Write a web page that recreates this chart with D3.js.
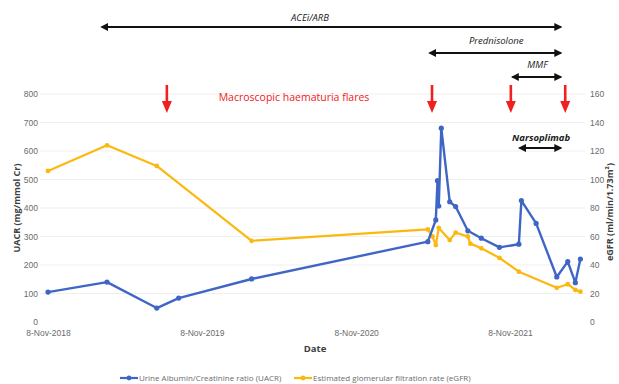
<!DOCTYPE html>
<html><head><meta charset="utf-8">
<script src="https://cdn.jsdelivr.net/npm/d3@7"></script>
<style>
html,body{margin:0;padding:0;background:#fff;}
svg{display:block;font-family:"Open Sans","Liberation Sans",sans-serif;}
</style></head>
<body><svg id="chart" width="619" height="384"></svg>
<script>
// ---- data ----
const uacrDates = ["2018-11-08","2019-03-28","2019-07-24","2019-09-14","2020-03-05","2021-04-27","2021-05-16","2021-05-20","2021-05-23","2021-05-29","2021-06-18","2021-07-02","2021-07-31","2021-09-01","2021-10-14","2021-11-29","2021-12-05","2022-01-09","2022-02-27","2022-03-25","2022-04-12","2022-04-24"];
const uacrValues = [105,140,49,84,151,282,358,496,407,680,422,405,320,294,262,273,426,346,158,212,138,221];
const egfrDates = ["2018-11-08","2019-03-28","2019-07-24","2020-03-05","2021-04-27","2021-05-08","2021-05-16","2021-05-23","2021-06-18","2021-07-02","2021-07-31","2021-08-06","2021-09-01","2021-10-14","2021-11-29","2022-02-27","2022-03-25","2022-04-12","2022-04-24"];
const egfrValues = [106,124,109.5,57,65,60,54,66,57.5,62.7,60,55,51.7,45,35.3,24,26.5,22.5,21.3];
const xTickDates = ["2018-11-08","2019-11-08","2020-11-08","2021-11-08"];
const leftTicks = [0,100,200,300,400,500,600,700,800];
const rightTicks = [0,20,40,60,80,100,120,140,160];
const treatments = ["ACEi/ARB","Prednisolone","MMF","Narsoplimab"];
const treatmentStart = ["2019-03-11","2021-04-27","2021-11-09","2021-11-26"];
const treatmentEnd = ["2022-03-13","2022-03-13","2022-03-13","2022-03-13"];
const flareDates = ["2019-08-17","2021-05-07","2021-11-10","2022-03-19"];
const flareLabel = "Macroscopic haematuria flares";
const seriesNames = ["Urine Albumin/Creatinine ratio (UACR)","Estimated glomerular filtration rate (eGFR)"];

const parse = d3.utcParse("%Y-%m-%d");
const fmt = d3.utcFormat("%-d-%b-%Y");
const svg = d3.select("#chart");

const x = d3.scaleUtc().domain([parse("2018-11-08"), parse("2021-11-08")]).range([48, 510]);
const yL = d3.scaleLinear().domain([0, 800]).range([322, 94]);
const yR = d3.scaleLinear().domain([0, 160]).range([322, 94]);

const blue = "#3f66c6", orange = "#fbb80f", grey = "#6b6b6b";

// gridlines
svg.append("g").selectAll("line").data(leftTicks.slice(1)).join("line")
  .attr("x1", 40).attr("x2", 585)
  .attr("y1", d => yL(d)).attr("y2", d => yL(d))
  .attr("stroke", "#efefef").attr("stroke-width", 1);

// left axis
const gL = svg.append("g").attr("transform", "translate(40,0)")
  .call(d3.axisLeft(yL).tickValues(leftTicks).tickSize(0).tickPadding(2));
gL.select(".domain").remove();
gL.selectAll("text").attr("fill", grey).attr("font-size", 8.5);

// right axis
const gR = svg.append("g").attr("transform", "translate(588,0)")
  .call(d3.axisRight(yR).tickValues(rightTicks).tickSize(0).tickPadding(2));
gR.select(".domain").remove();
gR.selectAll("text").attr("fill", grey).attr("font-size", 8.5);

// bottom axis
const gB = svg.append("g").attr("transform", "translate(0,328)")
  .call(d3.axisBottom(x).tickValues(xTickDates.map(parse)).tickFormat(fmt).tickSize(0).tickPadding(2));
gB.select(".domain").remove();
gB.selectAll("text").attr("fill", grey).attr("font-size", 8.5);

// axis titles
svg.append("text").attr("transform", "translate(20,208) rotate(-90)")
  .attr("text-anchor", "middle").attr("font-size", 9).attr("font-weight", "bold").attr("fill", "#404040")
  .text("UACR (mg/mmol Cr)");
svg.append("text").attr("transform", "translate(613,212) rotate(-90)")
  .attr("text-anchor", "middle").attr("font-size", 9).attr("font-weight", "bold").attr("fill", "#404040")
  .text("eGFR (ml/min/1.73m²)");
svg.append("text").attr("x", 315).attr("y", 352).attr("text-anchor", "middle")
  .attr("font-size", 9.5).attr("font-weight", "bold").attr("fill", "#404040").text("Date");

// series
const uacr = uacrDates.map((d, i) => ({ d: parse(d), v: uacrValues[i] }));
const egfr = egfrDates.map((d, i) => ({ d: parse(d), v: egfrValues[i] }));

svg.append("path").datum(egfr)
  .attr("fill", "none").attr("stroke", orange).attr("stroke-width", 2.2).attr("stroke-linejoin", "round")
  .attr("d", d3.line().x(d => x(d.d)).y(d => yR(d.v)));
svg.append("g").selectAll("circle").data(egfr).join("circle")
  .attr("cx", d => x(d.d)).attr("cy", d => yR(d.v)).attr("r", 2.4).attr("fill", orange);

svg.append("path").datum(uacr)
  .attr("fill", "none").attr("stroke", blue).attr("stroke-width", 2.4).attr("stroke-linejoin", "round")
  .attr("d", d3.line().x(d => x(d.d)).y(d => yL(d.v)));
svg.append("g").selectAll("circle").data(uacr).join("circle")
  .attr("cx", d => x(d.d)).attr("cy", d => yL(d.v)).attr("r", 2.6).attr("fill", blue);

// treatment arrows
const defs = svg.append("defs");
defs.append("marker").attr("id", "ah").attr("viewBox", "0 0 10 10").attr("refX", 8).attr("refY", 5)
  .attr("markerWidth", 4).attr("markerHeight", 4).attr("orient", "auto-start-reverse")
  .append("path").attr("d", "M0,0 L10,5 L0,10 Z").attr("fill", "#111");

const tY = [27, 53, 77, 148];
const tLabelY = [21, 44, 68, 141];
const tWeight = ["normal", "normal", "normal", "bold"];
treatments.forEach((t, i) => {
  const x1 = x(parse(treatmentStart[i])), x2 = x(parse(treatmentEnd[i]));
  svg.append("line").attr("x1", x1 + 2).attr("x2", x2 - 2).attr("y1", tY[i]).attr("y2", tY[i])
    .attr("stroke", "#111").attr("stroke-width", 2)
    .attr("marker-start", "url(#ah)").attr("marker-end", "url(#ah)");
  const cx = i === 0 ? 310 : (x1 + x2) / 2 + 1;
  svg.append("text").attr("x", cx).attr("y", tLabelY[i]).attr("text-anchor", "middle")
    .attr("font-size", 9.5).attr("font-style", "italic").attr("font-weight", tWeight[i]).attr("fill", "#1a1a1a")
    .text(t);
});

// flare arrows
const red = "#f02020";
flareDates.forEach(d => {
  const fx = x(parse(d));
  svg.append("line").attr("x1", fx).attr("x2", fx).attr("y1", 85).attr("y2", 102)
    .attr("stroke", red).attr("stroke-width", 2.6);
  svg.append("path").attr("d", `M${fx - 5},101 L${fx + 5},101 L${fx},113 Z`).attr("fill", red);
});
svg.append("text").attr("x", 294).attr("y", 101).attr("text-anchor", "middle")
  .attr("font-size", 10.5).attr("fill", red).text(flareLabel);

// legend
const lg = svg.append("g").attr("transform", "translate(0,378)");
const legendItems = [
  { name: seriesNames[0], color: blue, x0: 120 },
  { name: seriesNames[1], color: orange, x0: 294 }
];
legendItems.forEach(it => {
  lg.append("line").attr("x1", it.x0).attr("x2", it.x0 + 18).attr("y1", 0).attr("y2", 0)
    .attr("stroke", it.color).attr("stroke-width", 2.2);
  lg.append("circle").attr("cx", it.x0 + 9).attr("cy", 0).attr("r", 2.4).attr("fill", it.color);
  lg.append("text").attr("x", it.x0 + 19).attr("y", 3).attr("font-size", 8).attr("fill", grey).text(it.name);
});
</script>
</body></html>
